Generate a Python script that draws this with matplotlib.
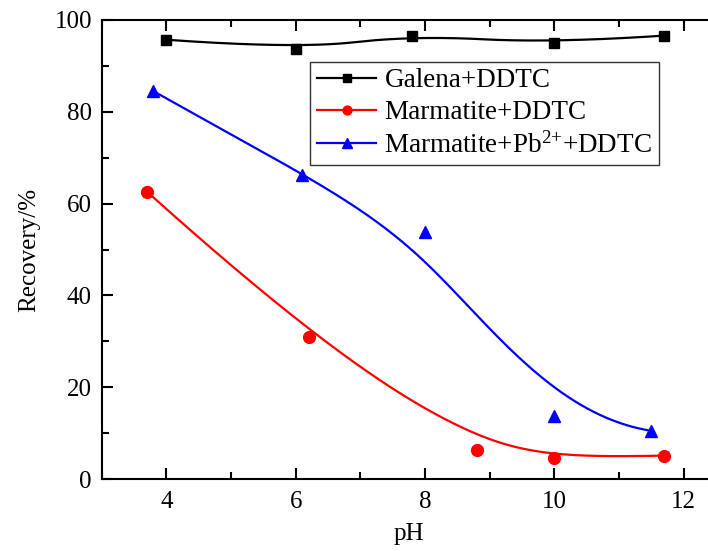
import numpy as np
import matplotlib
matplotlib.use("Agg")
import matplotlib.pyplot as plt
from matplotlib.ticker import MultipleLocator

plt.rcParams['font.family'] = ['Liberation Serif', 'DejaVu Serif']
plt.rcParams['mathtext.fontset'] = 'custom'
plt.rcParams['mathtext.rm'] = 'Liberation Serif'
plt.rcParams['mathtext.it'] = 'Liberation Serif:italic'

# Data
galena_ph = [4.0, 6.0, 7.8, 10.0, 11.7]
galena_rec = [95.7, 93.7, 96.6, 95.0, 96.6]
marm_ph = [3.7, 6.2, 8.8, 10.0, 11.7]
marm_rec = [62.6, 31.0, 6.3, 4.6, 5.1]
marmpb_ph = [3.8, 6.1, 8.0, 10.0, 11.5]
marmpb_rec = [84.5, 66.3, 53.8, 13.8, 10.5]

labels = ["Galena+DDTC", "Marmatite+DDTC", r"Marmatite+Pb$^{2{+}}$+DDTC"]
colors = ["black", "red", "blue"]
markers = ["s", "o", "^"]
degrees = [2, 3, 3]


def bspline(xs, ys, k=3, n=400):
    P = np.column_stack([xs, ys]).astype(float)
    m = len(P)
    k = min(k, m - 1)
    inner = np.linspace(0, 1, m - k + 1)
    t = np.concatenate([[0] * k, inner, [1] * k])
    u = np.linspace(0, 1, n)
    u[-1] = 1 - 1e-12

    def N(i, p, uu):
        if p == 0:
            return np.where((t[i] <= uu) & (uu < t[i + 1]), 1.0, 0.0)
        a = 0.0
        d1 = t[i + p] - t[i]
        if d1 > 0:
            a = (uu - t[i]) / d1 * N(i, p - 1, uu)
        b = 0.0
        d2 = t[i + p + 1] - t[i + 1]
        if d2 > 0:
            b = (t[i + p + 1] - uu) / d2 * N(i + 1, p - 1, uu)
        return a + b

    B = np.array([N(i, k, u) for i in range(m)])
    C = B.T @ P
    return C[:, 0], C[:, 1]


fig = plt.figure(figsize=(7.08, 5.51), dpi=100)
ax = fig.add_axes([101.7 / 708, 1 - 479 / 551, (716 - 101.7) / 708, (479 - 20) / 551])

series = [(galena_ph, galena_rec), (marm_ph, marm_rec), (marmpb_ph, marmpb_rec)]
msizes = [7.5, 8.5, 9]
handles = []
for (x, y), lab, c, mk, ms, dg in zip(series, labels, colors, markers, msizes, degrees):
    cx, cy = bspline(x, y, k=dg)
    ax.plot(cx, cy, color=c, lw=1.6, zorder=2)
    ax.plot(x, y, linestyle='none', marker=mk, color=c, ms=ms, zorder=3)
    h, = ax.plot([], [], color=c, lw=1.6, marker=mk, ms=ms * 0.75, label=lab)
    handles.append(h)

ax.set_xlim(3, 12.5)
ax.set_ylim(0, 100)
ax.xaxis.set_major_locator(MultipleLocator(2))
ax.xaxis.set_minor_locator(MultipleLocator(1))
ax.yaxis.set_major_locator(MultipleLocator(20))
ax.yaxis.set_minor_locator(MultipleLocator(10))
ax.tick_params(which='both', direction='in', top=True, right=False, width=1.5, labelsize=18)
ax.tick_params(axis='x', pad=9)
ax.tick_params(axis='y', pad=7)
ax.tick_params(which='major', length=8)
ax.tick_params(which='minor', length=5)
for s in ax.spines.values():
    s.set_linewidth(1.5)
ax.spines['right'].set_visible(False)

ax.set_xlabel("pH", fontsize=18, labelpad=7)
ax.set_ylabel("Recovery/%", fontsize=18, labelpad=10)

leg = ax.legend(handles=handles, loc='upper left', bbox_to_anchor=((310 - 101.7) / (716 - 101.7), (479 - 61.7) / 459),
                fontsize=19.5, frameon=True, fancybox=False, edgecolor='black', handlelength=2.2,
                handletextpad=0.3, borderpad=0.25, labelspacing=0.25, borderaxespad=0)
leg.get_frame().set_linewidth(1.0)

fig.savefig("out.png", dpi=100)
